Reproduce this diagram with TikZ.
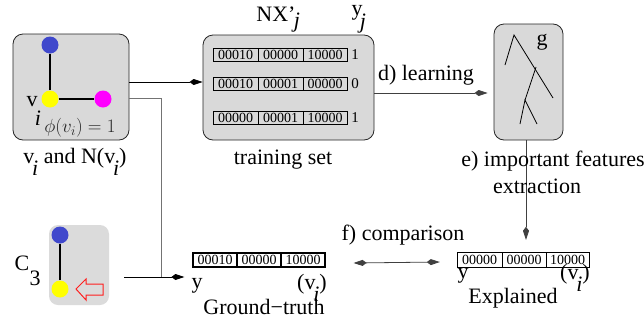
\RequirePackage{fix-cm}
\documentclass[tikz,border=0pt]{standalone}
\usepackage{fontspec}
\setmainfont{Liberation Serif}
\usetikzlibrary{arrows.meta,calc}
% lowered italic index, as in v_i written below the letter
\newcommand\lowsub[1]{\kern-0.1em\raisebox{-0.55em}{\itshape #1}}
\definecolor{dotblue}{RGB}{64,72,204}
\definecolor{dotyellow}{RGB}{255,255,0}
\definecolor{dotmagenta}{RGB}{255,0,255}
\definecolor{hollowred}{RGB}{255,30,30}

\begin{document}
\begin{tikzpicture}[x=1pt,y=-1pt,
  txt/.style={inner sep=0pt, font=\fontsize{22}{25}\selectfont},
  panel/.style={draw=black!85, fill=black!15, rounded corners=10pt, line width=0.8pt},
  cell/.style={draw, minimum height=13pt, inner sep=0pt, font=\fontsize{14}{14}\selectfont},
  dot/.style={circle, minimum size=17pt, inner sep=0pt},
  edge/.style={line width=2.6pt},
  tip/.style={-{Kite[length=13pt,width=6pt,inset=4pt]}},
  wire/.style={line width=0.8pt}]
\useasboundingbox (0,0) rectangle (644,327);

% ---- node v_i and its neighbourhood
\node[panel, minimum width=116pt, minimum height=106pt] (vbox) at (71,87) {};
\node[dot, fill=dotblue] (vb) at (50,45) {};
\node[dot, fill=dotyellow] (vy) at (50,99) {};
\node[dot, fill=dotmagenta] (vm) at (103,99) {};
\draw[edge] (vb) -- (vy) -- (vm);
\node[txt] (vlab) at (32,102) {v};
\node[txt] (vsub) at (38,118) {\itshape i};
\node[inner sep=0pt, font=\fontsize{19}{19}\selectfont, text=black!85] (phi) at (80,128) {$\phi(v_i)=1$};
\node[txt] (vcap) at (75,162) {v\lowsub{i} and N(v\lowsub{i})};

% ---- motif C_3
\node[fill=black!14, rounded corners=9pt, minimum width=60pt, minimum height=80pt] (c3) at (79,265) {};
\node[dot, fill=dotblue] (cb) at (60,235) {};
\node[dot, fill=dotyellow] (cy) at (60,289) {};
\draw[edge] (cb) -- (cy);
\draw[hollowred, line width=1pt, line join=miter]
  (76,289) -- (86,279) -- (86,284) -- (103,284) -- (103,295) -- (86,295) -- (86,300) -- cycle;
\node[txt] (clab) at (22,263) {C};
\node[txt] (csub) at (35,278) {3};

% ---- training set
\node[panel, minimum width=171pt, minimum height=105pt] (train) at (288.5,87.5) {};
\foreach \r/\a/\b/\c/\l/\yy in {1/00010/00000/10000/1/54.5, 2/00010/00001/00000/0/84, 3/00000/00001/10000/1/118}{
  \node[cell, minimum width=45pt] (t\r a) at (235.5,\yy) {\a};
  \node[cell, minimum width=45pt] (t\r b) at (280.5,\yy) {\b};
  \node[cell, minimum width=44pt] (t\r c) at (325,\yy) {\c};
  \node[inner sep=0pt, font=\fontsize{15}{15}\selectfont] (t\r l) at (355,\yy) {\l};
}
\node[txt] (nx) at (276,14) {NX'};
\node[txt] (nxj) at (297,23) {\itshape j};
\node[txt] (ylab) at (357,13) {y};
\node[txt] (yj) at (363,24) {\itshape j};
\node[txt] (tcap) at (283,160) {training set};

% ---- learned model g
\node[panel, minimum width=69pt, minimum height=116pt] (g) at (528.5,82) {};
\node[txt] (glab) at (542,42) {g};
\draw[line width=0.8pt] (505,65) -- (514,35) -- (553,98);
\draw[line width=0.8pt] (536,67) -- (525,100);
\draw[line width=0.8pt] (520,124) -- (525,100) -- (537,124);

% ---- ground truth explanation
\node[cell, line width=1.1pt, minimum width=44pt, minimum height=14pt] (gt1) at (215,260) {00010};
\node[cell, line width=1.1pt, minimum width=44pt, minimum height=14pt] (gt2) at (259,260) {00000};
\node[cell, line width=1.1pt, minimum width=44pt, minimum height=14pt] (gt3) at (303,260) {10000};
\node[txt] (gty) at (197,286) {y};
\node[txt] (gtv) at (312,288) {(v\lowsub{i})};
\node[txt] (gtcap) at (264,307) {Ground−truth};

% ---- explained output
\node[cell, minimum width=45pt, minimum height=15pt] (ex1) at (479.5,259.5) {00000};
\node[cell, minimum width=44pt, minimum height=15pt] (ex2) at (524,259.5) {00000};
\node[cell, minimum width=43pt, minimum height=15pt] (ex3) at (567.5,259.5) {10000};
\node[txt] (exy) at (463,276) {y};
\node[txt] (exv) at (575,278) {(v\lowsub{i})};
\node[txt] (excap) at (513,298) {Explained};

% ---- connectors
\coordinate (split) at (161,98);
\coordinate (cstart) at ([xshift=15pt,yshift=-12pt]c3.east);
\draw[wire, tip] ([yshift=5pt]vbox.east) -- ([yshift=5pt]vbox.east -| train.west);
\draw[wire, black!55] ([yshift=-11pt]vbox.east) -- (split) -- (split |- cstart);
\draw[wire, tip, shorten >=8pt] (cstart) -- (cstart -| gt1.west);
\draw[wire, black!75, tip, shorten >=6pt] ([yshift=-5.5pt]train.east) -- ([yshift=-5.5pt]train.east -| g.west);
\node[txt] (dlab) at (426,75) {d) learning};
\draw[wire, black!75, tip, shorten >=12pt] (g.south -| 526,0) -- (526,0 |- ex2.north);
\node[txt] (elab) at (553,161) {e) important features};
\node[txt] (elab2) at (537,186) {extraction};
\draw[wire, black!75, {Kite[length=13pt,width=6pt,inset=4pt]}-{Kite[length=13pt,width=6pt,inset=4pt]}]
  ([xshift=28pt,yshift=-3pt]gt3.east) -- ([xshift=-17pt,yshift=-2.5pt]ex1.west);
\node[txt] (flab) at (403,235) {f) comparison};
\end{tikzpicture}
\end{document}
